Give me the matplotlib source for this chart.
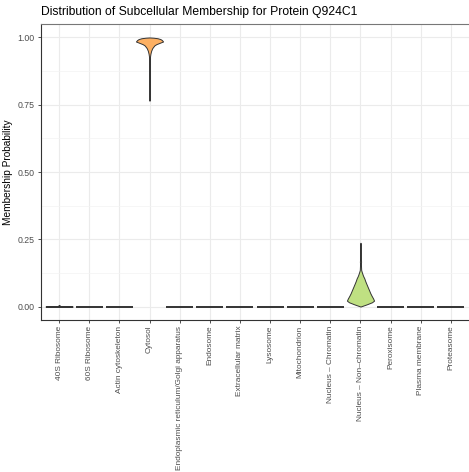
import matplotlib
matplotlib.use("Agg")
import matplotlib.pyplot as plt
import numpy as np

plt.rcParams['font.family'] = ['Liberation Sans', 'DejaVu Sans']

# subcellular compartments, in plotting order
compartments = ['40S Ribosome', '60S Ribosome', 'Actin cytoskeleton', 'Cytosol',
                'Endoplasmic reticulum/Golgi apparatus', 'Endosome',
                'Extracellular matrix', 'Lysosome', 'Mitochondrion',
                'Nucleus - Chromatin', 'Nucleus - Non-chromatin', 'Peroxisome',
                'Plasma membrane', 'Proteasome']

# density profiles (membership value, relative half width) for the compartments
# that are not flat at zero
ribo40s_y = [0.0, 0.002, 0.004, 0.006]
ribo40s_w = [1.0, 0.10, 0.05, 0.0]

cytosol_y = [0.765, 0.80, 0.85, 0.90, 0.92, 0.93, 0.94, 0.95, 0.96, 0.97,
             0.975, 0.98, 0.985, 0.990, 0.994, 0.997, 0.999, 1.0]
cytosol_w = [0.0, 0.005, 0.008, 0.015, 0.025, 0.04, 0.07, 0.12, 0.2, 0.35,
             0.5, 0.75, 1.0, 0.92, 0.8, 0.6, 0.3, 0.0]

nonchrom_y = [0.0, 0.008, 0.016, 0.022, 0.030, 0.040, 0.050, 0.061, 0.074,
              0.086, 0.096, 0.105, 0.111, 0.117, 0.123, 0.129, 0.136, 0.148,
              0.160, 0.167, 0.173, 0.180, 0.200, 0.237]
nonchrom_w = [0.0, 0.45, 0.85, 1.0, 0.93, 0.82, 0.72, 0.63, 0.52, 0.42, 0.34,
              0.28, 0.22, 0.17, 0.13, 0.09, 0.05, 0.04, 0.03, 0.045, 0.03,
              0.02, 0.015, 0.0]

profiles = {
    '40S Ribosome': (ribo40s_y, ribo40s_w, '#333333'),
    'Cytosol': (cytosol_y, cytosol_w, '#FDB063'),
    'Nucleus - Non-chromatin': (nonchrom_y, nonchrom_w, '#BFE082'),
}

W, H = 469, 472
fig = plt.figure(figsize=(W / 100, H / 100), dpi=100)
ax = fig.add_axes([41 / W, 1 - 320 / H, 428 / W, 296 / H])

pos = np.arange(1, len(compartments) + 1)
half = 0.45

for x, name in zip(pos, compartments):
    if name in profiles:
        y, w, col = profiles[name]
        w = np.array(w) * half
        ax.fill_betweenx(y, x - w, x + w, facecolor=col, edgecolor='#333333',
                         linewidth=0.7, zorder=3)
        if name == '40S Ribosome':
            ax.plot([x - half, x + half], [0, 0], color='#333333', lw=1.4,
                    solid_capstyle='butt', zorder=3)
    else:
        ax.plot([x - half, x + half], [0, 0], color='#333333', lw=1.4,
                solid_capstyle='butt', zorder=3)

ax.set_xlim(0.4, len(compartments) + 0.6)
ax.set_ylim(-0.05, 1.05)
ax.set_xticks(pos)
ax.set_xticklabels([c.replace('-', '\u2013') for c in compartments],
                   rotation=90, fontsize=5.95, color='#4D4D4D')
ax.set_yticks([0, 0.25, 0.5, 0.75, 1.0])
ax.set_yticklabels(['0.00', '0.25', '0.50', '0.75', '1.00'],
                   fontsize=6.3, color='#4D4D4D')
ax.set_yticks([0.125, 0.375, 0.625, 0.875], minor=True)
ax.tick_params(axis='both', which='major', length=2.5, width=0.6,
               color='#333333', pad=2)
ax.tick_params(axis='x', which='major', pad=1.5)
ax.tick_params(axis='y', which='minor', length=0)

ax.grid(True, which='major', color='#EBEBEB', lw=0.8, zorder=0)
ax.grid(True, which='minor', axis='y', color='#F3F3F3', lw=0.5, zorder=0)
ax.set_axisbelow(True)

for side in ['left', 'bottom', 'top']:
    ax.spines[side].set_color('#333333')
    ax.spines[side].set_linewidth(0.8)
ax.spines['top'].set_color('#777777')
ax.spines['right'].set_visible(False)

ax.set_ylabel('Membership Probability', fontsize=7.3)
ax.yaxis.set_label_coords(-28 / 428, 0.5)
fig.text(41 / W, 1 - 12 / H, 'Distribution of Subcellular Membership for Protein Q924C1',
         fontsize=8.7, ha='left', va='center')

fig.savefig('out.png', dpi=100)
